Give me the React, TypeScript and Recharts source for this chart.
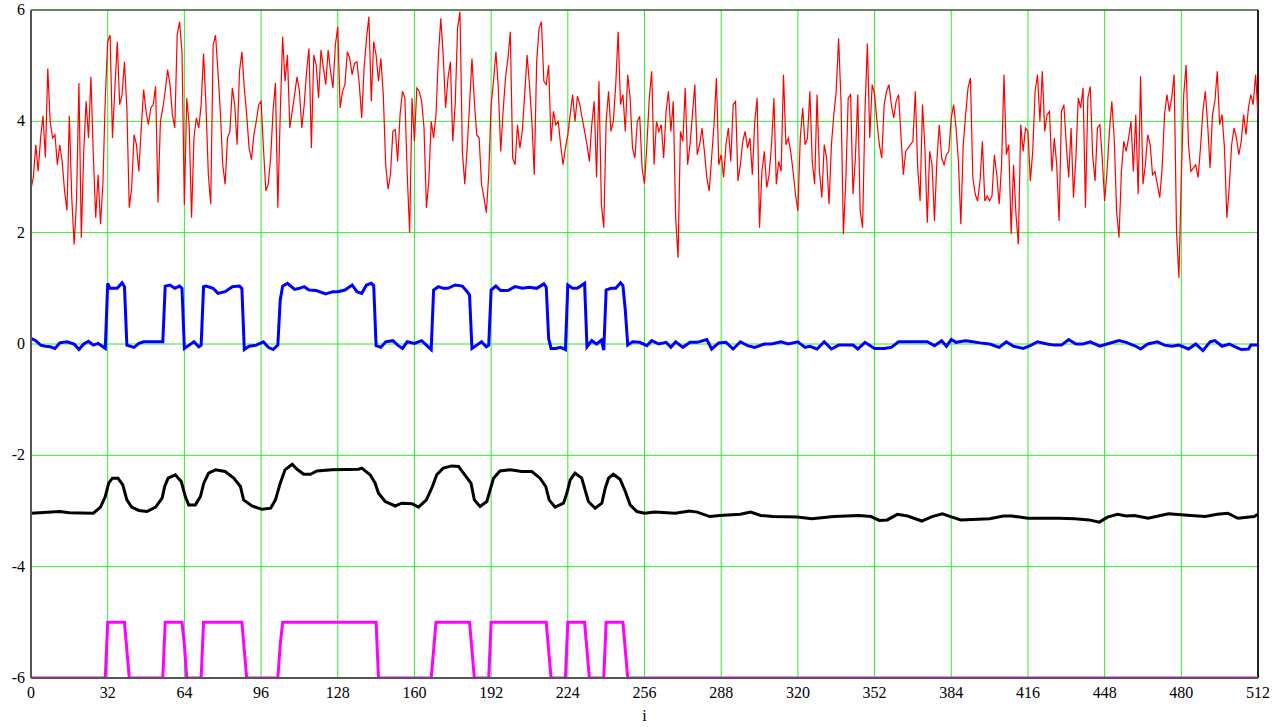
import React from 'react';
import { LineChart, Line, XAxis, YAxis, CartesianGrid, ReferenceLine } from 'recharts';

const xTicks = [0, 32, 64, 96, 128, 160, 192, 224, 256, 288, 320, 352, 384, 416, 448, 480, 512];
const yTicks = [-6, -4, -2, 0, 2, 4, 6];

// noisy input, one value per i = 0..512
const red = [
  2.78, 3.0, 3.58, 3.1, 3.7, 4.1, 3.35, 4.95, 4.0, 3.7,
  3.76, 3.22, 3.58, 3.28, 2.75, 2.4, 4.1, 2.63, 1.79, 2.57,
  4.69, 1.91, 3.46, 4.36, 3.7, 4.8, 3.4, 2.27, 3.04, 2.15,
  2.87, 4.42, 5.43, 5.55, 3.7, 4.6, 5.43, 4.3, 4.48, 5.07,
  4.24, 2.45, 2.8, 3.76, 3.58, 3.1, 3.88, 4.57, 4.18, 3.94,
  4.24, 4.3, 4.63, 2.54, 4.0, 4.24, 4.54, 4.93, 4.66, 4.12,
  3.88, 5.55, 5.79, 5.25, 2.5, 4.42, 3.94, 2.27, 3.7, 4.06,
  3.88, 4.3, 5.22, 4.3, 3.04, 2.51, 5.37, 5.55, 4.9, 4.18,
  3.22, 2.87, 3.7, 3.82, 4.6, 4.3, 3.58, 4.9, 5.25, 4.6,
  4.12, 3.52, 3.31, 3.76, 4.0, 4.3, 4.36, 3.52, 2.75, 2.87,
  3.34, 4.18, 4.69, 2.45, 4.12, 5.52, 4.72, 5.19, 3.88, 4.18,
  4.48, 4.8, 4.54, 3.88, 4.3, 4.9, 5.31, 3.52, 5.19, 5.01,
  4.42, 5.28, 4.96, 4.66, 5.28, 4.9, 4.6, 5.37, 5.7, 4.24,
  4.54, 4.66, 5.25, 5.13, 4.84, 5.04, 5.07, 4.66, 4.06, 4.96,
  5.49, 5.88, 4.36, 5.43, 5.19, 4.72, 5.13, 4.48, 3.22, 2.78,
  3.04, 3.82, 3.85, 3.28, 4.12, 4.54, 4.42, 3.04, 2.0, 4.42,
  3.64, 4.6, 4.54, 4.36, 3.88, 2.45, 2.93, 4.0, 3.7, 4.12,
  5.19, 5.85, 5.19, 4.24, 4.78, 5.07, 3.64, 4.3, 5.67, 5.97,
  3.46, 2.87, 3.52, 4.3, 5.13, 4.36, 3.76, 3.7, 2.87, 2.63,
  2.36, 3.04, 4.3, 4.72, 5.25, 4.6, 3.46, 4.18, 4.78, 5.13,
  5.61, 3.34, 3.22, 3.94, 3.52, 3.82, 4.48, 5.19, 4.66, 4.0,
  3.04, 5.07, 5.67, 5.79, 4.72, 4.66, 5.01, 3.64, 4.18, 3.94,
  4.0, 3.58, 3.22, 3.52, 3.76, 4.12, 4.48, 4.0, 4.45, 4.3,
  4.06, 3.82, 3.58, 3.28, 3.94, 4.36, 2.99, 4.72, 2.51, 2.09,
  4.0, 4.54, 3.82, 4.0, 4.66, 5.61, 4.3, 4.48, 3.82, 4.84,
  4.42, 3.52, 3.34, 4.0, 4.09, 3.16, 2.87, 3.58, 4.42, 4.9,
  3.22, 4.0, 3.82, 3.94, 3.34, 4.18, 4.54, 3.82, 4.36, 2.27,
  1.55, 3.82, 3.64, 4.6, 3.22, 3.58, 4.12, 4.66, 3.4, 3.58,
  3.88, 3.46, 2.99, 2.75, 3.34, 3.94, 4.78, 3.22, 3.4, 2.99,
  3.58, 3.88, 3.28, 4.3, 4.36, 2.93, 3.22, 3.64, 3.82, 3.52,
  3.7, 3.04, 4.0, 4.42, 2.09, 3.1, 3.46, 2.81, 3.04, 3.58,
  4.42, 2.87, 3.28, 3.1, 4.84, 3.58, 3.7, 3.46, 3.1, 2.69,
  2.39, 3.7, 4.24, 3.58, 3.7, 4.54, 3.28, 2.87, 4.48, 3.1,
  2.63, 3.58, 3.34, 2.51, 3.58, 4.12, 4.54, 5.49, 4.36, 1.97,
  2.93, 4.42, 4.48, 2.69, 3.34, 4.48, 2.39, 2.09, 4.18, 5.4,
  3.7, 4.66, 4.48, 4.0, 3.58, 3.34, 4.3, 4.54, 4.66, 4.3,
  4.06, 4.36, 4.48, 3.76, 3.04, 3.46, 3.52, 3.58, 3.64, 4.54,
  3.16, 2.57, 4.3, 3.52, 2.18, 3.46, 3.22, 2.21, 3.28, 3.94,
  3.34, 3.22, 3.4, 3.46, 4.06, 4.3, 3.88, 3.28, 2.15, 3.58,
  4.12, 4.6, 4.78, 2.99, 2.69, 2.57, 2.93, 3.64, 2.57, 2.66,
  2.57, 2.66, 3.4, 3.04, 2.51, 3.22, 4.84, 3.4, 3.58, 1.97,
  3.22, 2.33, 1.79, 3.94, 3.46, 3.88, 3.82, 2.93, 3.46, 4.54,
  4.84, 4.0, 4.9, 3.82, 4.12, 4.18, 3.1, 3.7, 3.22, 2.21,
  4.18, 4.3, 3.58, 2.99, 3.88, 2.63, 3.34, 4.42, 4.24, 4.6,
  2.45, 4.42, 4.63, 3.4, 2.93, 3.88, 3.94, 3.34, 2.57, 3.1,
  3.82, 4.36, 3.7, 2.39, 1.91, 3.1, 3.64, 3.46, 3.7, 4.0,
  3.1, 4.12, 2.69, 4.81, 2.87, 3.22, 3.76, 3.58, 3.04, 3.1,
  2.87, 2.63, 3.16, 4.12, 4.48, 4.18, 4.42, 4.84, 2.03, 1.19,
  2.99, 4.48, 5.01, 3.58, 3.1, 3.16, 3.22, 2.99, 3.52, 4.18,
  4.54, 3.94, 3.16, 4.12, 4.36, 4.9, 3.94, 4.12, 3.52, 2.27,
  2.81, 3.58, 3.88, 3.7, 3.4, 3.64, 4.12, 3.76, 4.24, 4.48,
  4.3, 4.84, 4.12,
];

// [i, value] corners
const blue: [number, number][] = [
  [0, 0.1], [2, 0.06], [4, -0.02], [6, -0.04], [8, -0.05], [10, -0.08], [12, 0.02], [15, 0.04],
  [18, 0], [20, -0.1], [22, 0], [24, 0.05], [26, -0.02], [28, 0.01], [30, -0.05], [31, -0.08],
  [32, 1.09], [33, 1.0], [36, 1.0], [38, 1.1], [39, 1.03],
  [40, -0.02], [43, -0.06], [45, 0.01], [47, 0.04], [51, 0.04], [55, 0.04],
  [56, 1.04], [58, 1.06], [60, 1.0], [62, 1.04], [63, 1.0],
  [64, -0.08], [66, -0.02], [68, 0.04], [70, -0.05], [71, -0.02],
  [72, 1.03], [73, 1.04], [76, 1.0], [78, 0.91], [81, 0.94], [84, 1.03], [87, 1.04], [88, 1.0],
  [89, -0.1], [91, -0.04], [94, -0.02], [97, 0.04], [99, -0.06], [101, -0.1], [103, -0.02],
  [104, 0.79], [105, 1.04], [107, 1.09], [110, 0.98], [112, 1.0], [114, 1.03], [116, 0.97], [119, 0.96],
  [123, 0.9], [126, 0.94], [128, 0.94], [131, 0.97], [134, 1.06], [136, 0.94], [138, 0.91], [140, 1.06],
  [142, 1.09], [143, 1.05],
  [144, -0.03], [146, -0.06], [148, 0.04], [151, 0.06], [153, -0.02], [155, -0.08], [157, 0.04],
  [160, 0.01], [163, 0.06], [165, -0.02], [167, -0.1],
  [168, 0.97], [170, 1.03], [172, 1.0], [174, 1.0], [177, 1.06], [180, 1.04], [182, 0.94], [183, 0.88],
  [184, -0.08], [186, -0.02], [188, 0.04], [190, -0.05], [191, -0.02],
  [192, 0.97], [194, 1.04], [196, 0.96], [199, 0.96], [202, 1.03], [205, 1.0], [208, 1.02], [211, 1.0],
  [214, 1.08], [215, 1.02],
  [216, 0.1], [217, -0.08], [219, -0.08], [221, -0.06], [223, -0.1],
  [224, 1.06], [226, 1.0], [228, 1.0], [231, 1.09],
  [232, -0.05], [234, 0.06], [236, 0], [238, 0.07], [239, -0.11],
  [240, 0.97], [242, 1.0], [244, 1.0], [246, 1.1], [247, 1.05],
  [248, 0.6], [249, -0.02], [251, 0.04], [254, 0.03], [257, -0.03], [259, 0.06], [262, 0],
  [265, 0.03], [267, -0.06], [269, 0.04], [272, -0.06], [275, 0.03], [278, 0.03], [282, 0.08], [284, -0.09],
  [287, 0.02], [290, 0.03], [293, -0.09], [296, 0.04], [299, -0.03], [302, -0.06], [306, 0], [309, 0],
  [313, 0.04], [316, 0], [320, 0.04], [323, -0.06], [325, -0.04], [328, -0.09], [331, 0.04], [334, -0.09],
  [337, -0.02], [343, -0.02], [345, -0.09], [348, 0.03], [352, -0.08], [356, -0.08], [359, -0.06],
  [362, 0.04], [374, 0.04], [377, -0.03], [380, 0.06], [382, -0.04], [384, 0.08], [386, 0.03], [390, 0.06],
  [393, 0.04], [396, 0.02], [400, 0], [404, -0.06], [407, 0.04], [410, -0.04], [414, -0.08], [417, -0.03],
  [420, 0.04], [424, 0], [427, -0.02], [430, -0.02], [433, 0.08], [436, 0], [439, 0], [442, 0.04],
  [446, -0.04], [449, 0], [454, 0.06], [457, 0.03], [461, -0.04], [463, -0.09], [466, 0], [470, 0.04],
  [473, -0.02], [476, -0.04], [479, -0.02], [483, -0.09], [486, 0], [489, -0.12], [492, 0.04], [494, 0.06],
  [497, -0.04], [500, 0], [503, -0.06], [505, -0.1], [508, -0.09], [509, -0.02], [512, -0.02],
];

// smoothed trace, shifted down
const black: [number, number][] = [
  [0, -3.04], [12, -3.01], [16, -3.03], [26, -3.04], [29, -2.93], [31, -2.74], [32.4, -2.5], [34, -2.41],
  [36.3, -2.41], [38.3, -2.53], [40, -2.8], [42, -2.93], [45, -2.99], [48.4, -3.01], [52, -2.93],
  [54.7, -2.77], [55.8, -2.56], [57.2, -2.41], [60.2, -2.35], [62.7, -2.47], [64.4, -2.74], [65.8, -2.89],
  [68.6, -2.89], [70.7, -2.74], [72.1, -2.5], [74.1, -2.32], [77, -2.26], [81, -2.29], [84.6, -2.41],
  [87.4, -2.56], [88.7, -2.8], [92.2, -2.91], [96.4, -2.97], [100, -2.95], [102, -2.8], [104, -2.5],
  [106, -2.26], [109, -2.16], [111, -2.25], [113.8, -2.34], [116.6, -2.34], [119.3, -2.28], [125.6, -2.26],
  [136.7, -2.25], [138, -2.23], [141.5, -2.35], [143.6, -2.5], [145, -2.68], [147.8, -2.83], [152, -2.91],
  [154.7, -2.86], [159, -2.87], [161.7, -2.93], [165, -2.8], [167.5, -2.56], [169.3, -2.35], [172, -2.23],
  [175.6, -2.19], [178.4, -2.2], [181, -2.35], [183.6, -2.5], [185, -2.8], [187.4, -2.92], [190.2, -2.83],
  [191.6, -2.62], [193, -2.41], [195.7, -2.28], [200, -2.26], [204.8, -2.29], [209, -2.29], [212.4, -2.41],
  [214.8, -2.56], [216.2, -2.8], [218.7, -2.93], [222.2, -2.86], [223.6, -2.68], [225, -2.44], [227, -2.32],
  [229.8, -2.41], [231.2, -2.62], [232.6, -2.83], [235.4, -2.95], [238.2, -2.86], [239.6, -2.59],
  [241, -2.41], [243, -2.34], [245.8, -2.43], [248, -2.65], [250, -2.89], [252.8, -3.01], [256, -3.04],
  [260.3, -3.02], [268.8, -3.04], [274.7, -3.0], [278, -3.02], [283.2, -3.1], [287.5, -3.08], [296, -3.06],
  [300.3, -3.02], [304.5, -3.08], [309.6, -3.1], [319.8, -3.11], [325.8, -3.14], [335, -3.1], [345.4, -3.08],
  [350.5, -3.1], [354, -3.17], [357.3, -3.16], [361.5, -3.06], [365.8, -3.09], [371.7, -3.18], [376, -3.1],
  [380.3, -3.05], [383.7, -3.1], [388, -3.16], [400, -3.14], [405.8, -3.09], [409.2, -3.09], [416, -3.13],
  [428.8, -3.13], [435.6, -3.14], [441.5, -3.16], [445.8, -3.2], [449.2, -3.11], [453.4, -3.06],
  [457, -3.09], [460.4, -3.08], [466.2, -3.13], [471.3, -3.08], [474.7, -3.05], [484, -3.08], [490, -3.1],
  [495, -3.06], [499.4, -3.04], [503.6, -3.13], [510.4, -3.1], [512, -3.06],
];

// detector output: -6 idle, -5 when a pulse is present
const magenta: [number, number][] = [
  [0, -6], [31, -6], [32, -5], [39, -5], [40, -5.5], [41, -6],
  [55, -6], [56, -5], [63, -5], [64, -5.4], [65, -6],
  [71, -6], [72, -5], [88, -5], [89, -5.5], [90, -6],
  [103, -6], [104, -5.4], [105, -5], [144, -5], [145, -6],
  [167, -6], [168, -5.5], [169, -5], [183, -5], [184, -5.5], [185, -6],
  [191, -6], [192, -5], [215, -5], [216, -5.5], [217, -6],
  [223, -6], [224, -5], [231, -5], [232, -5.5], [233, -6],
  [239, -6], [240, -5], [247, -5], [248, -5.5], [249, -6],
  [512, -6],
];

const toRows = (pts: [number, number][]) => pts.map(([i, v]) => ({ i, v }));
const redRows = red.map((v, i) => ({ i, v }));

const FONT = 'Liberation Serif';

const XTick = (props: any) => {
  const { x, y, payload } = props;
  return (
    <text x={x} y={y} dy={12} textAnchor="middle" fontFamily={FONT} fontSize={16} fill="#000">
      {payload.value}
    </text>
  );
};

const YTick = (props: any) => {
  const { x, y, payload } = props;
  return (
    <text x={x} y={y} dy={5} textAnchor="end" fontFamily={FONT} fontSize={16} fill="#000">
      {payload.value}
    </text>
  );
};

const AxisName = (props: any) => {
  const { viewBox } = props;
  return (
    <text x={viewBox.x + viewBox.width / 2} y={viewBox.y + 43} textAnchor="middle" fontFamily={FONT} fontSize={16} fill="#000">
      i
    </text>
  );
};

export default function App() {
  return (
    <div style={{ position: 'absolute', left: 0, top: 0 }}>
      <LineChart width={1284} height={727} margin={{ top: 10, right: 26, left: 0, bottom: 0 }}>
        <CartesianGrid stroke="#33e833" strokeWidth={1} />
        <XAxis
          dataKey="i"
          type="number"
          domain={[0, 512]}
          ticks={xTicks}
          interval={0}
          height={49}
          tickLine={false}
          tickSize={6}
          tickMargin={2}
          tick={<XTick />}
          axisLine={{ stroke: '#555', strokeWidth: 2 }}
          allowDataOverflow
          label={<AxisName />}
        />
        <YAxis
          type="number"
          domain={[-6, 6]}
          ticks={yTicks}
          interval={0}
          width={31}
          tickLine={false}
          tickSize={4}
          tickMargin={2}
          tick={<YTick />}
          axisLine={{ stroke: '#555', strokeWidth: 2 }}
          allowDataOverflow
        />
        <ReferenceLine y={6} stroke="#222" strokeWidth={1} />
        <ReferenceLine x={512} stroke="#222" strokeWidth={2} />
        <Line data={redRows} dataKey="v" type="linear" stroke="#ff0000" strokeWidth={1.2} dot={false} isAnimationActive={false} />
        <Line data={toRows(blue)} dataKey="v" type="linear" stroke="#0000ff" strokeWidth={3} dot={false} isAnimationActive={false} />
        <Line data={toRows(black)} dataKey="v" type="linear" stroke="#000000" strokeWidth={3} dot={false} isAnimationActive={false} />
        <Line data={toRows(magenta)} dataKey="v" type="linear" stroke="#ff00ff" strokeWidth={3} dot={false} isAnimationActive={false} />
      </LineChart>
    </div>
  );
}
